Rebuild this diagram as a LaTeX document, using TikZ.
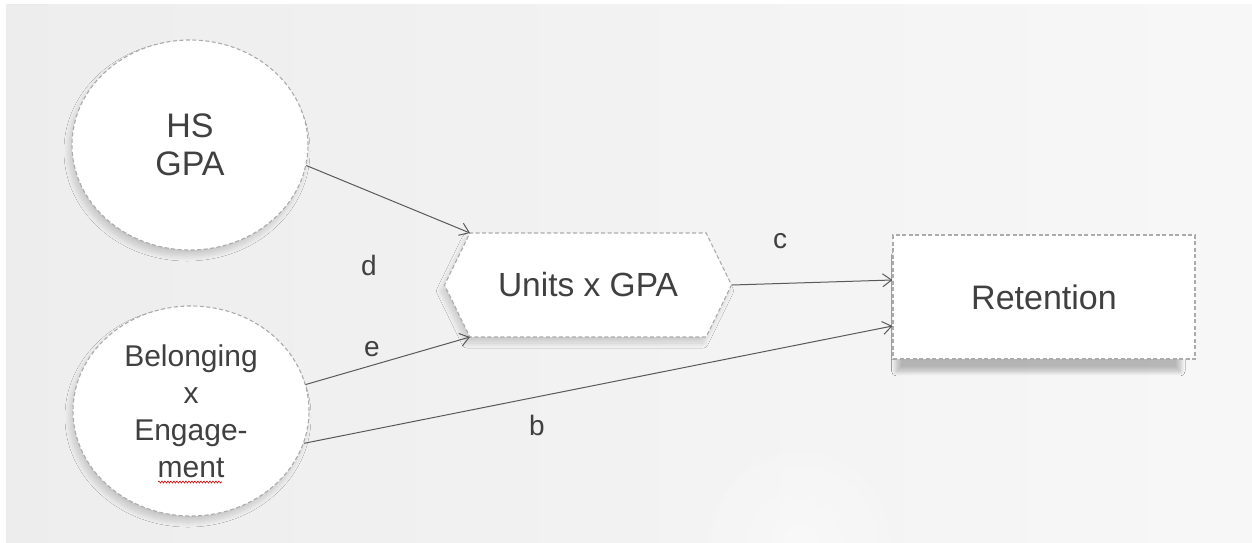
\documentclass[tikz,border=0pt]{standalone}
\usepackage{fontspec}
\setmainfont{Liberation Sans}
\usetikzlibrary{shapes.geometric,shapes.symbols,arrows.meta,shadows.blur,decorations.pathmorphing}
\definecolor{bordergray}{HTML}{ABABAB}
\definecolor{linegray}{HTML}{595959}
\definecolor{txt}{HTML}{404040}
\tikzset{
  shapebase/.style={draw=bordergray, dashed, dash pattern=on 4pt off 2.5pt, line width=1.1pt, fill=white, text=txt, inner sep=0pt, align=center,
    blur shadow={shadow xshift=-3pt, shadow yshift=-6pt, shadow opacity=16, shadow blur steps=12, shadow blur radius=5pt}},
  circ/.style={shapebase, ellipse, minimum width=236pt, minimum height=210pt},
  hexa/.style={shapebase, signal, signal to=west and east, signal pointer angle=128, minimum width=287pt, minimum height=104pt, font=\fontsize{33.5}{36}\selectfont},
  boxnode/.style={shapebase, rectangle, minimum width=302pt, minimum height=124pt, font=\fontsize{34}{36}\selectfont,
    blur shadow={shadow scale=0.94, shadow xshift=-6pt, shadow yshift=-17pt, shadow opacity=14, shadow blur steps=12, shadow blur radius=5pt}},
  conn/.style={draw=linegray, line width=1pt, -{Straight Barb[length=9pt, width=13pt, line width=1pt]}},
  lbl/.style={text=txt, font=\fontsize{28}{32}\selectfont, inner sep=0pt}
}
\begin{document}
\begin{tikzpicture}[x=1pt,y=1pt]
  \useasboundingbox (0,0) rectangle (1252,-542);
  \fill[white] (0,0) rectangle (1252,-542);
  \shade[left color=black!7, right color=black!3] (6,-4) rectangle (1252,-542);
  \shade[inner color=white, outer color=black!3, opacity=0.4] (800,-542) circle (90);

  \node[circ, font=\fontsize{34}{38}\selectfont] (hs) at (190,-145) {HS\\GPA};
  \node[circ, font=\fontsize{30}{37}\selectfont] (be) at (191,-411) {Belonging\\x\\Engage-\\ment};
  \node[hexa] (un) at (588,-285) {Units x GPA};
  \node[boxnode] (re) at (1044,-297) {Retention};

  \draw[red!80!black, line width=0.6pt, decorate, decoration={snake, amplitude=1pt, segment length=3pt}] (158,-482) -- (222,-482);

  \coordinate (untl) at (470,-233);
  \coordinate (unbl) at (470,-337);
  \draw[conn] (hs.-10) -- (untl);
  \draw[conn] (be.13) -- (unbl);
  \draw[conn] (be.-16) -- ([yshift=-29pt]re.west);
  \draw[conn] (un.east) -- ([yshift=17pt]re.west);

  \node[lbl] (ld) at (369,-265) {d};
  \node[lbl] (le) at (372,-349) {e};
  \node[lbl] (lc) at (780,-241) {c};
  \node[lbl] (lb) at (537,-425) {b};
\end{tikzpicture}
\end{document}
